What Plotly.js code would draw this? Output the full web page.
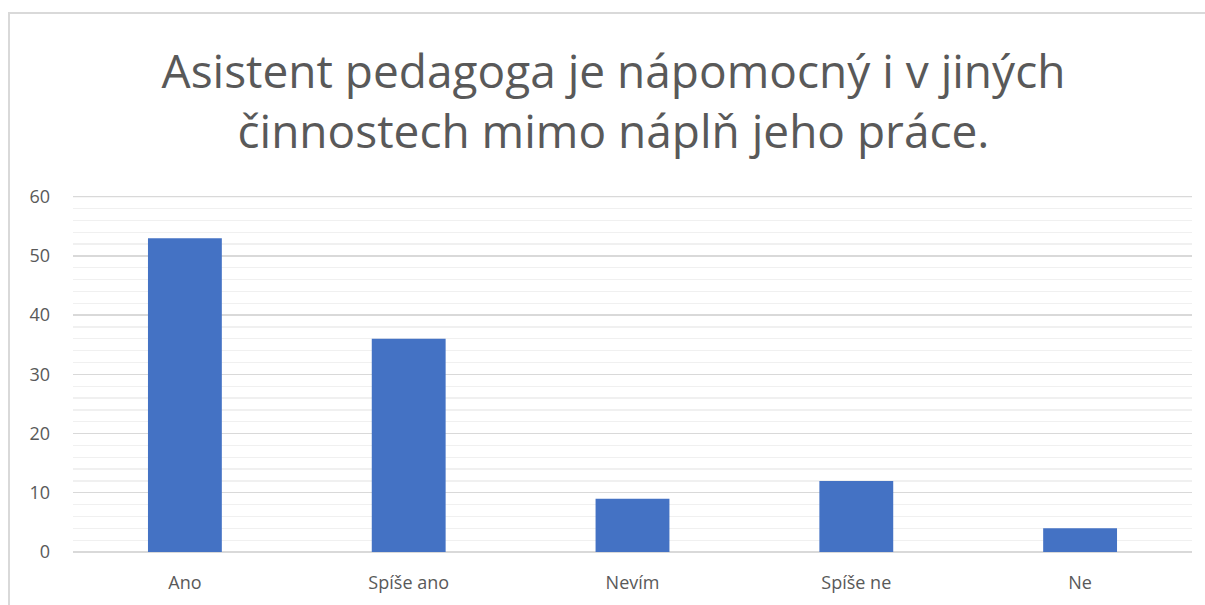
<!DOCTYPE html>
<html>
<head>
<meta charset="utf-8">
<script src="https://cdn.plot.ly/plotly-3.0.1.min.js"></script>
<style>
html,body{margin:0;padding:0;background:#fff;overflow:hidden;}
#frame{position:absolute;left:8px;top:12px;width:1197px;height:593px;border-left:2px solid #d9d9d9;border-top:2px solid #d9d9d9;box-sizing:border-box;}
#chart{position:absolute;left:0;top:0;width:1195px;height:591px;}
</style>
</head>
<body>
<div id="frame"><div id="chart"></div></div>
<script>
const categories = ["Ano", "Spíše ano", "Nevím", "Spíše ne", "Ne"];
const values = [53, 36, 9, 12, 4];
const yTicks = [0, 10, 20, 30, 40, 50, 60];
const titleText = "Asistent pedagoga je nápomocný i v jiných<br>činnostech mimo náplň jeho práce.";

const font = "'Open Sans', 'Noto Sans', sans-serif";
const yMax = yTicks[yTicks.length - 1];
Plotly.newPlot('chart', [{
  type: 'bar',
  x: categories,
  y: values,
  marker: {color: '#4472c4'},
  hoverinfo: 'none'
}], {
  width: 1195, height: 591,
  margin: {l: 63, r: 13, t: 182, b: 53},
  paper_bgcolor: '#fff', plot_bgcolor: '#fff',
  bargap: 0.67,
  showlegend: false,
  title: {
    text: titleText,
    font: {family: font, size: 46, color: '#595959'},
    x: 0.505, xref: 'container', xanchor: 'center',
    y: 0.874, yref: 'container', yanchor: 'top'
  },
  xaxis: {
    showgrid: false, zeroline: false, showline: false,
    ticks: '', ticklabelstandoff: 18,
    tickfont: {family: font, size: 18, color: '#595959'}
  },
  yaxis: {
    range: [0, 60.12],
    tickvals: yTicks,
    ticktext: yTicks.map(String),
    showgrid: true, gridcolor: '#d9d9d9', gridwidth: 1.3,
    zeroline: true, zerolinecolor: '#d9d9d9', zerolinewidth: 1.3,
    showline: false, ticks: '', ticklabelstandoff: 22,
    tickfont: {family: font, size: 18, color: '#595959'},
    minor: {dtick: 2, showgrid: true, gridcolor: '#f0f0f0', gridwidth: 1.3}
  },
  shapes: [{
    type: 'line', xref: 'paper', yref: 'y', x0: 0, x1: 1, y0: yMax, y1: yMax,
    line: {color: '#d9d9d9', width: 1.3}, layer: 'below'
  }]
}, {staticPlot: true, displayModeBar: false});
</script>
</body>
</html>
